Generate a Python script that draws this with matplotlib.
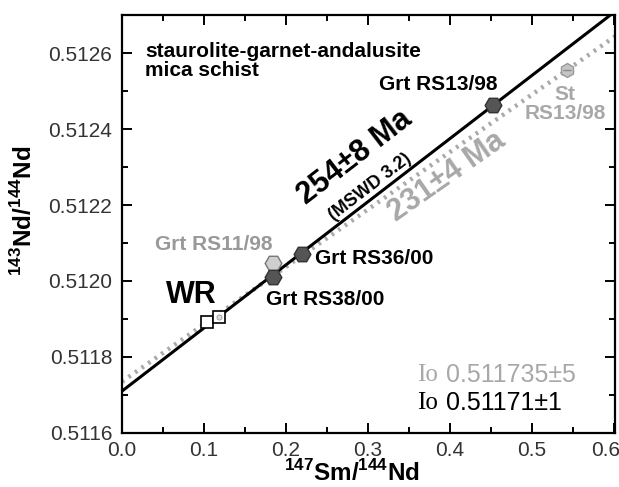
"""Sm-Nd isochron diagram, staurolite-garnet-andalusite mica schist."""

import matplotlib

matplotlib.use("Agg")
import matplotlib.pyplot as plt
import numpy as np
from matplotlib.ticker import FuncFormatter, MultipleLocator, FormatStrFormatter

plt.rcParams["font.family"] = ["Liberation Sans", "DejaVu Sans"]
plt.rcParams["mathtext.fontset"] = "custom"
plt.rcParams["mathtext.rm"] = "Liberation Sans:bold"
plt.rcParams["mathtext.bf"] = "Liberation Sans:bold"

# whole rock (open squares)
wr_x = [0.104, 0.118]
wr_y = [0.511892, 0.511905]

# garnets on the 254 Ma isochron (dark hexagons)
grt_names = ["Grt RS38/00", "Grt RS36/00", "Grt RS13/98"]
grt_x = [0.184, 0.2195, 0.4524]
grt_y = [0.512010, 0.512071, 0.512463]

# garnet off the isochron (light hexagon)
grt11_x = [0.184]
grt11_y = [0.512047]

# staurolite (small hatched hexagon)
st_x = [0.5427]
st_y = [0.512555]

# isochrons: intercept, slope
iso_black = (0.51171, 0.001663)   # 254 +- 8 Ma
iso_gray = (0.511735, 0.001512)   # 231 +- 4 Ma

XLIM = (0.0, 0.601)
YLIM = (0.5116, 0.5127)

DARK = "#555555"
LIGHT_TXT = "#a8a8a8"
TICK_TXT = "#333333"

fig = plt.figure(figsize=(6.19, 4.87), dpi=100)
ax = fig.add_axes([0.197, 0.111, 0.7965, 0.858])
ax.set_xlim(*XLIM)
ax.set_ylim(*YLIM)

xs = np.array(XLIM)
ax.plot(xs, iso_gray[0] + iso_gray[1] * xs, ls=(0, (0.6, 1.2)), lw=3.2,
        color="#aaaaaa", zorder=2)
ax.plot(xs, iso_black[0] + iso_black[1] * xs, "-", lw=2.2, color="black", zorder=3)

ax.plot(wr_x, wr_y, "s", ms=9, mfc="white", mec="black", mew=1.2, zorder=4)
ax.plot(wr_x[1:], wr_y[1:], "h", ms=4, mfc="#dddddd", mec="#999999", mew=0.6, zorder=5)
ax.plot(grt11_x, grt11_y, "H", ms=12, mfc="#cfcfcf", mec="#777777", mew=1.0, zorder=4)
ax.plot(grt_x, grt_y, "H", ms=12, mfc=DARK, mec="#333333", mew=1.0, zorder=5)
ax.plot(st_x, st_y, "h", ms=10, mfc="#c4c4c4", mec="#999999", mew=1.0, zorder=4)
ax.plot(st_x, st_y, "_", ms=6, mec="#8a8a8a", mew=1.0, zorder=5)

# axes styling
for sp in ax.spines.values():
    sp.set_linewidth(1.6)
ax.xaxis.set_major_locator(MultipleLocator(0.1))
ax.xaxis.set_minor_locator(MultipleLocator(0.05))
ax.yaxis.set_major_locator(MultipleLocator(0.0002))
ax.yaxis.set_minor_locator(MultipleLocator(0.0001))
ax.tick_params(which="both", direction="in", top=True, right=True, width=1.4,
               labelsize=15, labelcolor=TICK_TXT)
ax.tick_params(which="major", length=7)
ax.tick_params(which="minor", length=4)
ax.tick_params(axis="x", pad=6)
ax.tick_params(axis="y", pad=7)
# the 0.6 label is drawn by hand below, nudged left of its tick as in the original
ax.xaxis.set_major_formatter(FuncFormatter(lambda v, _: "" if v > 0.55 else f"{v:.1f}"))
ax.yaxis.set_major_formatter(FormatStrFormatter("%.4f"))
ax.annotate("0.6", xy=(0.6, 0), xycoords=("data", "axes fraction"), xytext=(-6, -5.5),
            textcoords="offset points", ha="center", va="top", fontsize=15, color=TICK_TXT)

ax.set_xlabel(r"$^{\mathbf{147}}$Sm/$^{\mathbf{144}}$Nd", fontsize=17.5, fontweight="bold")
ax.set_ylabel(r"$^{\mathbf{143}}$Nd/$^{\mathbf{144}}$Nd", fontsize=17.5, fontweight="bold")
ax.xaxis.set_label_coords(0.4665, -0.064)
ax.yaxis.set_label_coords(-0.172, 0.531)


def line_angle(icpt, slope):
    p = ax.transData.transform([(0.1, icpt + slope * 0.1), (0.5, icpt + slope * 0.5)])
    return np.degrees(np.arctan2(p[1, 1] - p[0, 1], p[1, 0] - p[0, 0]))


ang_b = line_angle(*iso_black)
ang_g = line_angle(*iso_gray)

ax.text(0.028, 0.512629, "staurolite-garnet-andalusite\nmica schist", fontsize=15,
        fontweight="bold", ha="left", va="top", linespacing=1.0)

ax.text(0.2836, 0.512326, "254±8 Ma", fontsize=22, fontweight="bold", rotation=ang_b,
        rotation_mode="anchor", ha="center", va="center")
ax.text(0.303, 0.512247, "(MSWD 3.2)", fontsize=13, fontweight="bold", rotation=ang_b,
        rotation_mode="anchor", ha="center", va="center")
ax.text(0.3967, 0.512274, "231±4 Ma", fontsize=22, fontweight="bold", rotation=ang_g,
        rotation_mode="anchor", ha="center", va="center", color=LIGHT_TXT)

ax.text(0.386, 0.512516, grt_names[2], fontsize=15, fontweight="bold", ha="center", va="center")
ax.text(0.308, 0.512058, grt_names[1], fontsize=15, fontweight="bold", ha="center", va="center")
ax.text(0.2483, 0.511950, grt_names[0], fontsize=15, fontweight="bold", ha="center", va="center")
ax.text(0.112, 0.512097, "Grt RS11/98", fontsize=15, fontweight="bold", ha="center",
        va="center", color="#999999")
ax.text(0.084, 0.511963, "WR", fontsize=22, fontweight="bold", ha="center", va="center")
ax.text(0.540, 0.512465, "St\nRS13/98", fontsize=15, fontweight="bold", ha="center",
        va="center", color=LIGHT_TXT, linespacing=1.0)

# initial ratios
ax.text(0.360, 0.511753, "Io", fontsize=18, family="Liberation Serif", ha="left",
        va="center", color=LIGHT_TXT)
ax.text(0.3955, 0.511753, "0.511735±5", fontsize=18, ha="left", va="center", color=LIGHT_TXT)
ax.text(0.360, 0.511679, "Io", fontsize=18, family="Liberation Serif", ha="left",
        va="center", color="black")
ax.text(0.3955, 0.511679, "0.51171±1", fontsize=18, ha="left", va="center", color="black")

fig.savefig("out.png", dpi=100)
